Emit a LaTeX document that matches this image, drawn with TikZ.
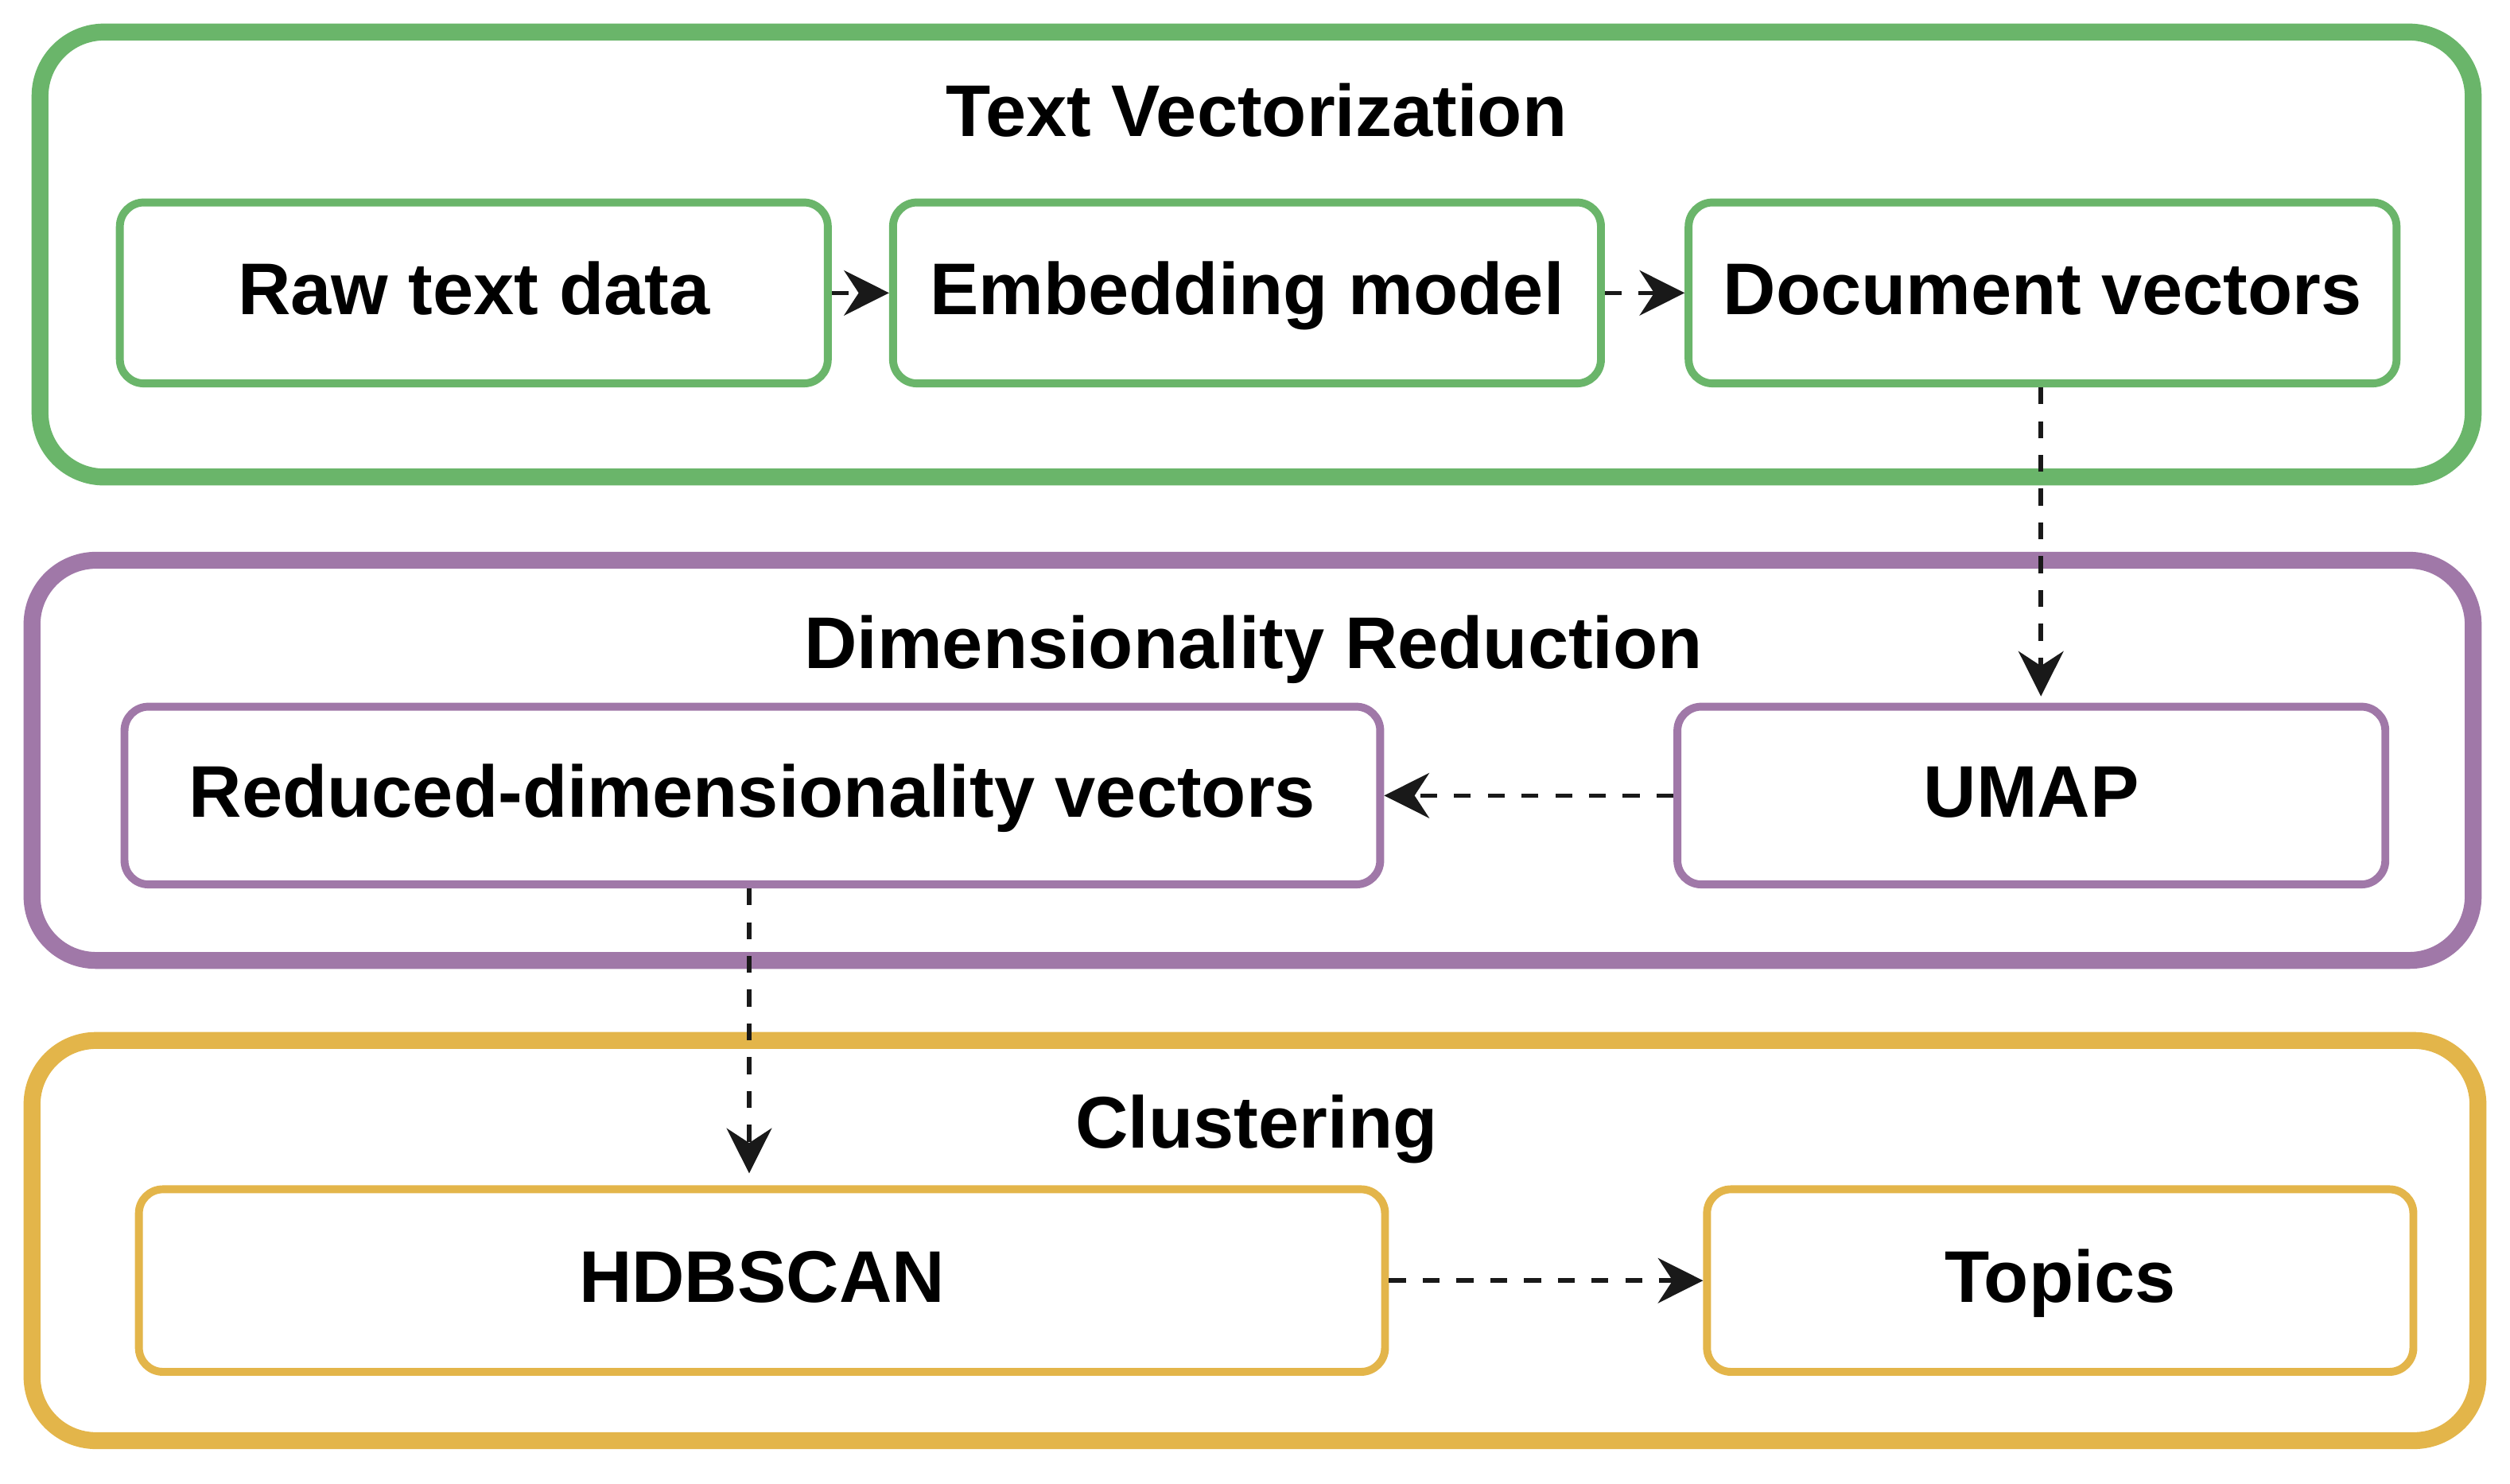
\documentclass[tikz,border=0pt]{standalone}
\usepackage{fontspec}
\setmainfont{Liberation Sans}
\usetikzlibrary{arrows.meta}
\definecolor{gr}{HTML}{6AB56A}
\definecolor{pu}{HTML}{A078A8}
\definecolor{ye}{HTML}{E3B54A}
\begin{document}
\begin{tikzpicture}[x=0.01cm,y=-0.01cm,
 outer/.style={line width=3pt,rounded corners=0.4cm},
 inner/.style={line width=1.4pt,rounded corners=0.15cm,fill=white,text height=0.88em,text depth=0.12em,font=\bfseries\fontsize{13}{15}\selectfont},
 ttl/.style={font=\bfseries\fontsize{13}{15}\selectfont,text height=0.88em,text depth=0.12em},
 arr/.style={dashed,line width=0.8pt,draw=black!90,-{Stealth[length=8pt,width=8pt]}}]
\useasboundingbox (0,0) rectangle (1568,927);
\draw[outer,gr] (25,20) rectangle (1545,298);
\draw[outer,pu] (20,350) rectangle (1545,600);
\draw[outer,ye] (20,650) rectangle (1548,900);
\node[ttl] (t1) at (785,72) {Text Vectorization};
\node[ttl] (t2) at (783,404) {Dimensionality Reduction};
\node[ttl] (t3) at (785,704) {Clustering};
\node[inner,draw=gr,minimum width=4.42cm,minimum height=1.13cm] (raw) at (296,183) {Raw text data};
\node[inner,draw=gr,minimum width=4.42cm,minimum height=1.13cm] (emb) at (779,183) {Embedding model};
\node[inner,draw=gr,minimum width=4.42cm,minimum height=1.13cm] (doc) at (1276,183) {Document vectors};
\node[inner,draw=pu,minimum width=7.84cm,minimum height=1.11cm] (red) at (470,497) {Reduced-dimensionality vectors};
\node[inner,draw=pu,minimum width=4.42cm,minimum height=1.11cm] (umap) at (1269,497) {UMAP};
\node[inner,draw=ye,minimum width=7.78cm,minimum height=1.14cm] (hdb) at (476,800) {HDBSCAN};
\node[inner,draw=ye,minimum width=4.41cm,minimum height=1.14cm] (top) at (1287,800) {Topics};
\draw[arr] (raw) -- (emb);
\draw[arr] (emb) -- (doc);
\draw[arr] (doc.south -| 1275,0) -- (1275,435);
\draw[arr] (umap) -- (red);
\draw[arr] (red.south -| 468,0) -- (468,733);
\draw[arr] (hdb) -- (top);
\end{tikzpicture}
\end{document}
